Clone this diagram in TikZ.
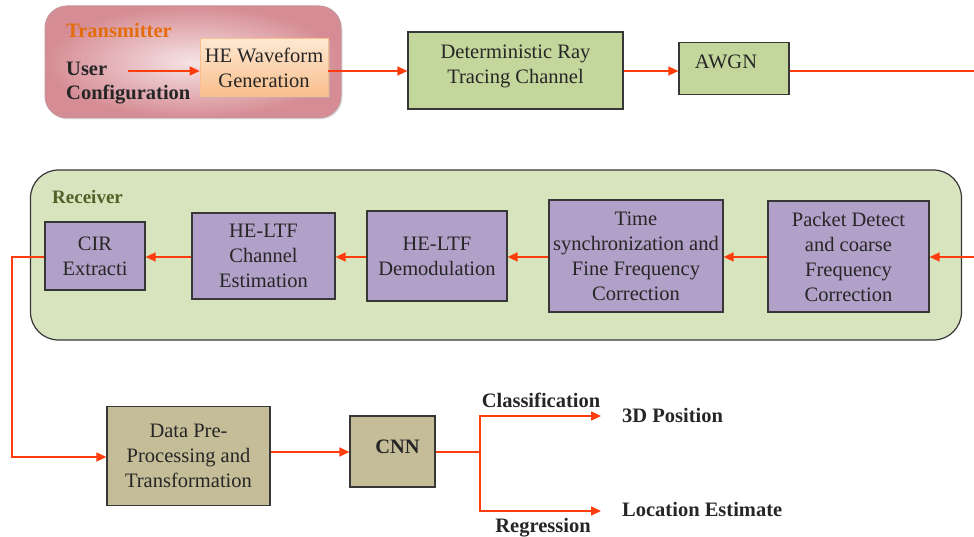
\documentclass[tikz,border=0pt]{standalone}
\usepackage{fontspec}
\setmainfont{Liberation Serif}
\usetikzlibrary{arrows.meta,shadows,calc}
\definecolor{arr}{RGB}{255,60,12}
\definecolor{boxline}{RGB}{55,55,55}
\definecolor{txt}{RGB}{38,38,38}
\definecolor{greenbox}{RGB}{195,214,155}
\definecolor{rxfill}{RGB}{215,228,189}
\definecolor{purplebox}{RGB}{177,160,199}
\definecolor{tanbox}{RGB}{196,189,151}
\definecolor{txorange}{RGB}{228,108,10}
\definecolor{rxgreen}{RGB}{79,98,40}
\definecolor{pinkout}{RGB}{214,140,148}
\definecolor{pinkin}{RGB}{246,228,229}
\definecolor{pinkline}{RGB}{196,150,155}
\definecolor{orlight}{RGB}{253,232,210}
\definecolor{ordark}{RGB}{249,190,140}
\begin{document}
\begin{tikzpicture}[x=1pt,y=-1pt,
  font=\fontsize{20.5}{25}\selectfont,
  box/.style={draw=boxline, line width=1.2pt, inner sep=0pt, align=center, text=txt},
  greenb/.style={box, fill=greenbox},
  purpleb/.style={box, fill=purplebox},
  tanb/.style={box, fill=tanbox},
  lbl/.style={text=txt, inner sep=0pt, font=\fontsize{20.5}{25}\selectfont\bfseries},
  redline/.style={color=arr, line width=1.5pt},
  conn/.style={redline, -{Triangle[length=10pt,width=9pt]}}
]
\useasboundingbox (0,0) rectangle (974,537);

% Transmitter
\node[draw=pinkline, line width=1pt, rounded corners=22pt, inner color=pinkin, outer color=pinkout,
      minimum width=296pt, minimum height=112pt,
      drop shadow={shadow xshift=1.5pt, shadow yshift=-1.5pt, fill=gray!45}] (tx) at (193,62) {};
\node[lbl, text=txorange, anchor=base west] (txlabel) at (66,38) {Transmitter};
\node[lbl, anchor=base west] (user) at (66,76) {User};
\node[lbl, anchor=base west] (config) at (66,100) {Configuration};
\node[box, draw=ordark, line width=0.6pt, top color=orlight, bottom color=ordark, minimum width=128pt, minimum height=58pt,
      drop shadow={shadow xshift=2pt, shadow yshift=-2pt, fill=gray!55}] (hewf) at (264,67.5)
      {HE Waveform\\Generation};

% Channel
\node[greenb, minimum width=215pt, minimum height=77pt] (det) at (515.5,70.5) {};
\node[text=txt, inner sep=0pt, anchor=base] (dettxt) at (515.5,59) {Deterministic Ray};
\node[text=txt, inner sep=0pt, anchor=base] (dettxt2) at (515.5,84) {Tracing Channel};
\node[greenb, minimum width=110pt, minimum height=52pt] (awgn) at (734,68.5) {};
\node[text=txt, inner sep=0pt, anchor=base] (awgntxt) at (726,68.3) {AWGN};

\coordinate (ucstart) at (128,71);
\coordinate (topright) at (974,71);
\draw[conn] (ucstart) -- (ucstart -| hewf.west);
\draw[conn] (ucstart -| hewf.east) -- (ucstart -| det.west);
\draw[conn] (ucstart -| det.east) -- (ucstart -| awgn.west);
\draw[redline] (ucstart -| awgn.east) -- (topright);

% Receiver
\node[draw=boxline, line width=1.2pt, fill=rxfill, rounded corners=28pt,
      minimum width=931pt, minimum height=170pt] (rx) at (496,255) {};
\node[lbl, text=rxgreen, anchor=base west, font=\fontsize{19}{23}\selectfont\bfseries] (rxlabel) at (52,204) {Receiver};

\node[purpleb, minimum width=100pt, minimum height=68pt] (cir) at (95,256) {CIR\\Extracti};
\node[purpleb, minimum width=143pt, minimum height=86pt] (chan) at (263.5,256) {HE-LTF\\Channel\\Estimation};
\node[purpleb, minimum width=140pt, minimum height=90pt] (demod) at (437,256) {HE-LTF\\Demodulation};
\node[purpleb, minimum width=174pt, minimum height=112pt] (time) at (636,256)
      {Time\\synchronization and\\Fine Frequency\\Correction};
\node[purpleb, minimum width=161pt, minimum height=111pt] (pkt) at (848.5,256.5)
      {Packet Detect\\and coarse\\Frequency\\Correction};

\coordinate (rxin) at (974,257);
\draw[conn] (rxin) -- (rxin -| pkt.east);
\draw[conn] (rxin -| pkt.west) -- (rxin -| time.east);
\draw[conn] (rxin -| time.west) -- (rxin -| demod.east);
\draw[conn] (rxin -| demod.west) -- (rxin -| chan.east);
\draw[conn] (rxin -| chan.west) -- (rxin -| cir.east);

% Processing
\node[tanb, minimum width=163pt, minimum height=99pt] (data) at (188.5,456)
      {Data Pre-\\Processing and\\Transformation};
\node[tanb, minimum width=85pt, minimum height=71pt] (cnn) at (392.5,451.5) {};
\node[lbl, anchor=base] (cnntxt) at (397.5,453) {CNN};

\coordinate (loopx) at (12,0);
\coordinate (datain) at (0,457);
\draw[conn] (rxin -| cir.west) -- (loopx |- rxin) |- (datain -| data.west);
\coordinate (cnnrow) at (0,452);
\draw[conn] (cnnrow -| data.east) -- (cnnrow -| cnn.west);

\coordinate (split) at (480,452);
\coordinate (clsend) at (601,416);
\coordinate (regend) at (601,511);
\draw[redline] (cnnrow -| cnn.east) -- (split);
\draw[conn] (split) |- (clsend);
\draw[conn] (split) |- (regend);

\node[lbl, anchor=base] (cls) at (541,407) {Classification};
\node[lbl, anchor=base] (reg) at (543,532) {Regression};
\node[lbl, anchor=base west] (pos) at (622,422) {3D Position};
\node[lbl, anchor=base west] (loc) at (622,516) {Location Estimate};
\end{tikzpicture}
\end{document}
